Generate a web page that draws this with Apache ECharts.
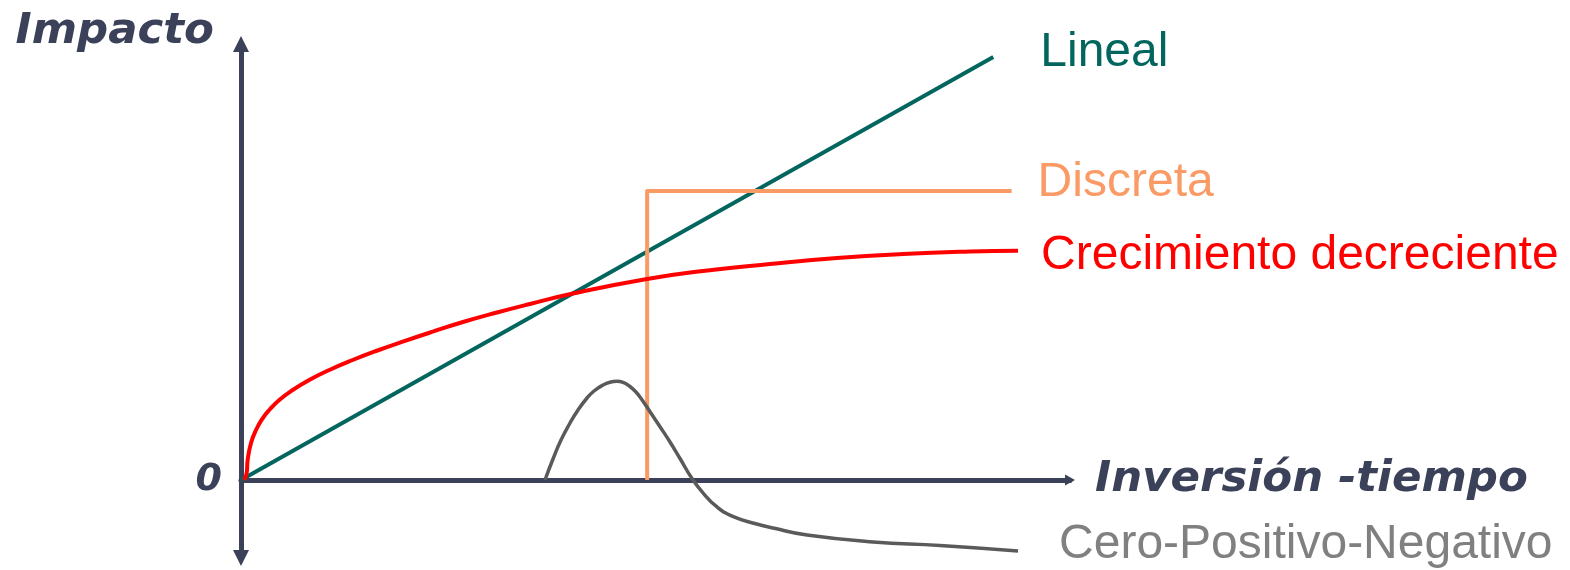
<!DOCTYPE html>
<html>
<head>
<meta charset="utf-8">
<script src="https://cdn.jsdelivr.net/npm/echarts@6/dist/echarts.min.js"></script>
<style>
html,body{margin:0;padding:0;background:#fff;}
#chart{width:1570px;height:570px;}
</style>
</head>
<body>
<div id="chart"></div>
<script>
// ---- data ----
const seriesNames = ['Lineal', 'Discreta', 'Crecimiento decreciente', 'Cero-Positivo-Negativo'];
const axisNameX = 'Inversión -tiempo';
const axisNameY = 'Impacto';
const originLabel = '0';

const lineal = [[0, 0], [90.2, 84.6]];
const discreta = [[48.7, 0], [48.7, 57.8], [92.4, 57.8]];
const crecimiento = [[0.36, 0], [0.68, 1.34], [0.8, 4], [1.2, 7.4], [1.8, 10], [2.6, 12.34], [3.39, 14],
  [4.59, 16], [6.2, 18], [8.18, 20], [10.59, 22], [13.39, 24], [16.19, 25.8], [19.39, 27.66],
  [22.99, 29.66], [26.62, 31.6], [30.7, 33.5], [34.65, 35.2], [39.81, 37.3], [48.68, 40.2],
  [55.4, 41.8], [63.43, 43.2], [71.46, 44.4], [79.38, 45.2], [87.41, 45.7], [93.17, 45.86]];
const ceroPosNeg = [[36.45, 0], [37.41, 4.2], [38.37, 8], [39.45, 11.4], [40.41, 14], [41.49, 16.4],
  [42.33, 17.8], [43.41, 19], [44.24, 19.56], [45.08, 19.74], [45.8, 19.54], [46.64, 18.7],
  [47.24, 17.8], [47.84, 16.6], [49.04, 13.66], [50.24, 10.66], [51.44, 7.6], [52.64, 4.3],
  [54.04, 0.4], [55.44, -2.66], [57.04, -5.34], [59.03, -7.34], [61.83, -8.8], [63.79, -9.6],
  [67.87, -11], [75.78, -12.4], [83.81, -13.1], [93.17, -14.2]];

// ---- styles ----
const axisColor = '#3b4159';
const colors = ['#03665e', '#fa9a65', '#ff0000', '#5a5a5a'];
const labelColors = ['#03665e', '#fa9a65', '#ff0000', '#808080'];
const labelDist = [47, 26, 23, 41];
const labelDy = [-4, -8, 5, -6];
const lineWidths = [4, 4, 4, 3.5];
const smooths = [false, false, 0.5, 0.5];
const datasets = [lineal, discreta, crecimiento, ceroPosNeg];

const chart = echarts.init(document.getElementById('chart'), null, {renderer: 'canvas'});

const boldItalic = {
  fontFamily: 'DejaVu Sans', fontWeight: 'bold', fontStyle: 'italic', color: axisColor
};

const option = {
  animation: false,
  grid: {left: 241, right: 500, top: 44, bottom: 12, containLabel: false},
  xAxis: {
    type: 'value', min: 0, max: 99.4,
    name: axisNameX, nameLocation: 'end', nameGap: 25,
    nameTextStyle: Object.assign({fontSize: 43.5, padding: [0, 0, 6, 0]}, boldItalic),
    axisLine: {show: true, onZero: true, lineStyle: {color: axisColor, width: 5},
      symbol: ['none', 'triangle'], symbolSize: [11, 10]},
    axisTick: {show: false}, axisLabel: {show: false}, splitLine: {show: false}
  },
  yAxis: {
    type: 'value', min: -15.6, max: 87.2,
    name: axisNameY, nameLocation: 'end', nameGap: 12,
    nameTextStyle: Object.assign({fontSize: 43.5, align: 'right', verticalAlign: 'middle', padding: [0, 27, 0, 0]}, boldItalic),
    axisLine: {show: true, onZero: false, lineStyle: {color: axisColor, width: 5},
      symbol: ['triangle', 'triangle'], symbolSize: [16, 16]},
    axisTick: {show: false},
    axisLabel: Object.assign({show: true, fontSize: 38, margin: 19,
      formatter: function (v) { return v === 0 ? originLabel : ''; }}, boldItalic),
    splitLine: {show: false}
  },
  series: seriesNames.map(function (name, i) {
    return {
      name: name, type: 'line', data: datasets[i], showSymbol: false, symbol: 'none',
      smooth: smooths[i], clip: false, silent: true,
      lineStyle: {color: colors[i], width: lineWidths[i], cap: 'butt', join: 'round'},
      itemStyle: {color: colors[i]},
      endLabel: {
        show: true, formatter: '{a}', distance: labelDist[i], offset: [0, labelDy[i]],
        color: labelColors[i], fontSize: 48, fontFamily: 'Liberation Sans'
      },
      z: i === 3 ? 5 : 3
    };
  })
};
chart.setOption(option);
</script>
</body>
</html>
